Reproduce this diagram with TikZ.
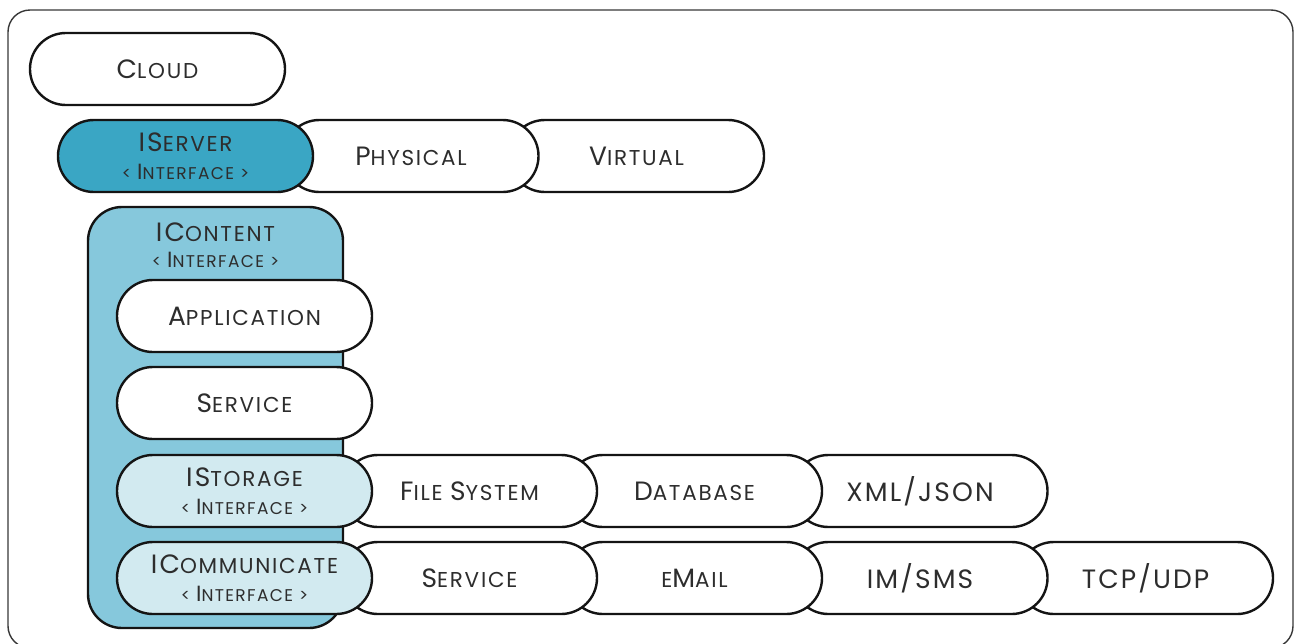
\documentclass[tikz,border=0pt]{standalone}
\usepackage{fontspec}
\setmainfont{Poppins}[LetterSpace=8]
\definecolor{serverfill}{RGB}{58,166,196}
\definecolor{contentfill}{RGB}{134,200,220}
\definecolor{lightfill}{RGB}{210,234,240}
\definecolor{txt}{RGB}{45,45,45}
\definecolor{edge}{RGB}{20,20,20}
% big and small capitals
\newcommand\bA[1]{{\fontsize{26.5}{28}\selectfont #1}}
\newcommand\sA[1]{{\fontsize{21.5}{28}\selectfont #1}}
% interface line
\newcommand\bC[1]{{\fontsize{22}{28}\selectfont #1}}
\newcommand\sC[1]{{\fontsize{17}{28}\selectfont #1}}
\newcommand\iface{\sC{< }\bC{I}\sC{NTERFACE >}}
\begin{document}
\begin{tikzpicture}[x=1pt,y=-1pt,
  pill/.style={draw=edge, line width=2.4pt, fill=white, rectangle, rounded corners=35.9pt,
    minimum width=255pt, minimum height=72pt, inner sep=0pt, text=txt, align=center,
    font=\fontsize{21.5}{28}\selectfont},
  frame/.style={draw=edge!85, line width=1.4pt, rounded corners=22pt},
  container/.style={draw=edge, line width=2.4pt, fill=contentfill, rounded corners=34pt}]
\useasboundingbox (0,0) rectangle (1295,643);
\draw[frame] (8,10) rectangle (1293,648);
% top
\node[pill] (cloud) at (157.5,69) {\bA{C}\sA{LOUD}};
\node[pill] (virtual) at (636.5,156) {\bA{V}\sA{IRTUAL}};
\node[pill] (physical) at (411,156) {\bA{P}\sA{HYSICAL}};
\node[pill, fill=serverfill] (iserver) at (185.5,156) {\bA{IS}\sA{ERVER}\\\iface};
% container
\node[container, minimum width=255pt, minimum height=421pt, inner sep=0pt] (icontent) at (215.5,417.5) {};
\node[text=txt, align=center, anchor=north, inner sep=0pt, font=\fontsize{21.5}{26}\selectfont] (icontenttitle) at (215.5,223) {\bA{IC}\sA{ONTENT}\\\iface};
\node[pill] (application) at (244.5,316) {\bA{A}\sA{PPLICATION}};
\node[pill] (service) at (244.5,403) {\bA{S}\sA{ERVICE}};
% storage row
\node[pill] (xml) at (920,491) {\bA{XML/JSON}};
\node[pill] (database) at (694.5,491) {\bA{D}\sA{ATABASE}};
\node[pill] (filesystem) at (469.5,491) {\bA{F}\sA{ILE} \bA{S}\sA{YSTEM}};
\node[pill, fill=lightfill] (istorage) at (244.5,491) {\bA{IS}\sA{TORAGE}\\\iface};
% communicate row
\node[pill] (tcp) at (1145.5,578) {\bA{TCP/UDP}};
\node[pill] (im) at (920,578) {\bA{IM/SMS}};
\node[pill] (email) at (694.5,578) {\sA{E}\bA{M}\sA{AIL}};
\node[pill] (service2) at (469.5,578) {\bA{S}\sA{ERVICE}};
\node[pill, fill=lightfill] (icommunicate) at (244.5,578) {\bA{IC}\sA{OMMUNICATE}\\\iface};
\end{tikzpicture}
\end{document}
